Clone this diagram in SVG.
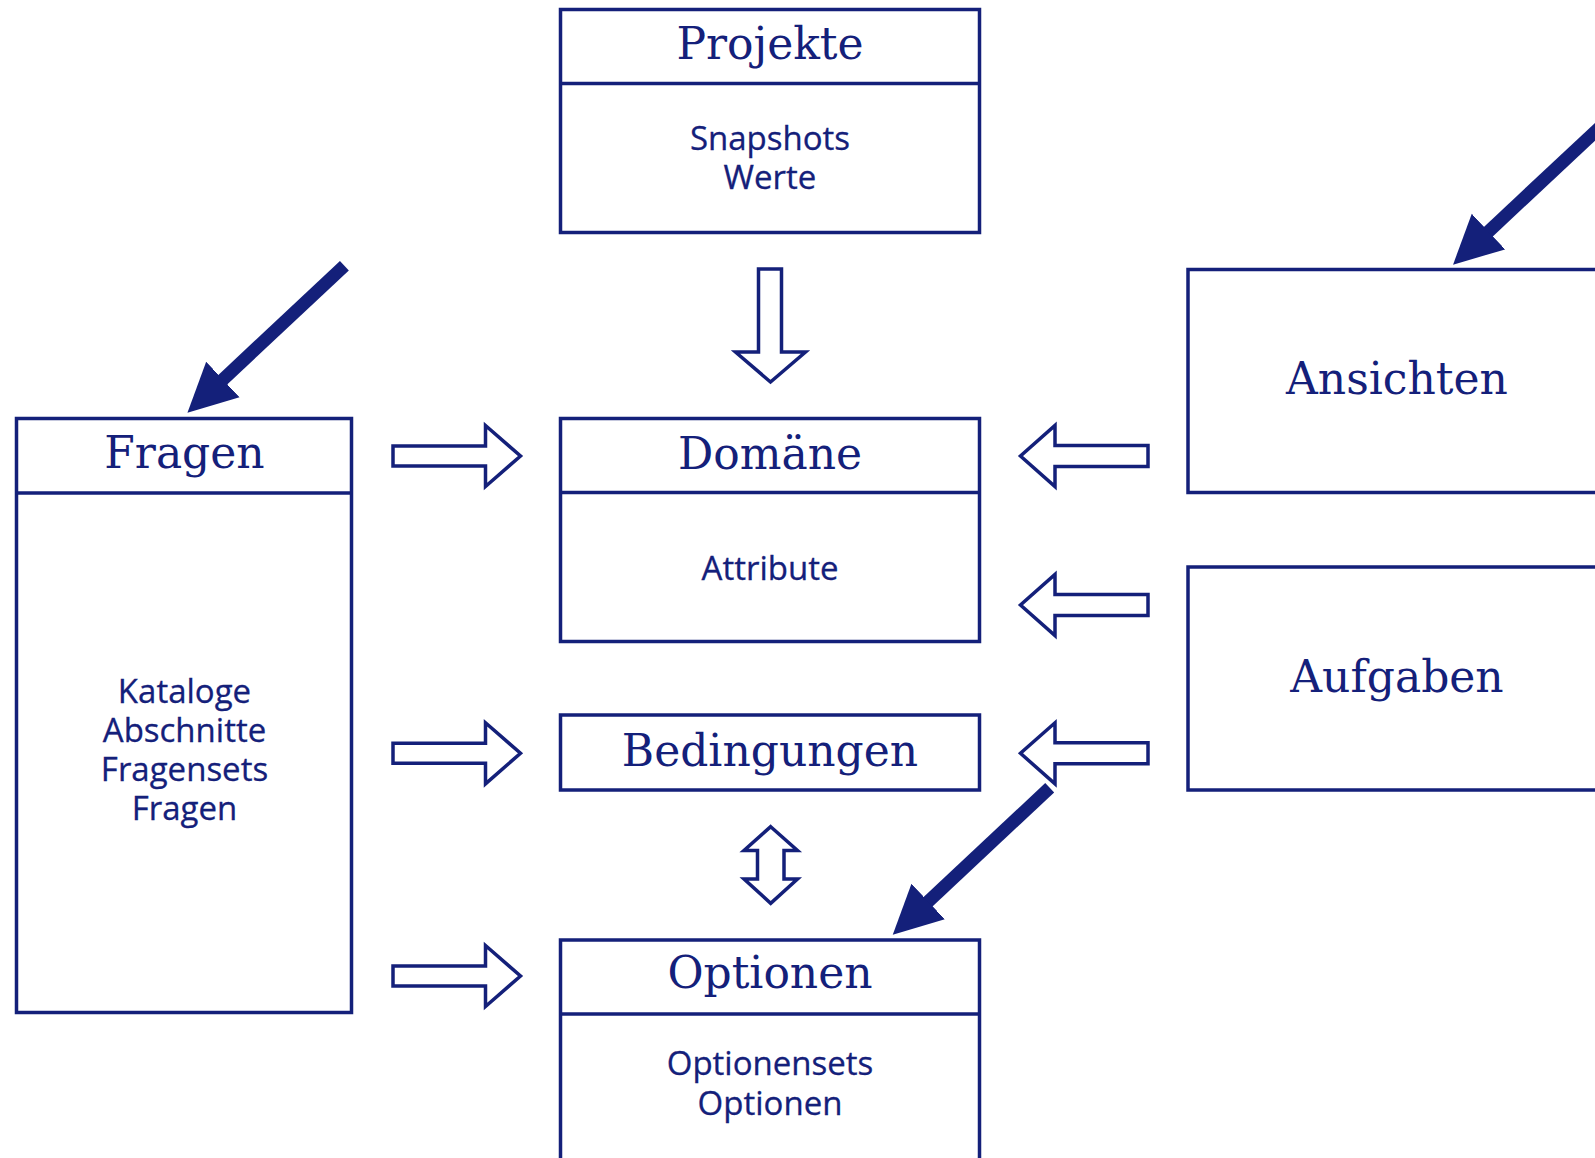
<svg xmlns="http://www.w3.org/2000/svg" width="1595" height="1158" viewBox="0 0 1595 1158">
<style>
.box{fill:#fff;stroke:#14207a;stroke-width:3.5}
.div{stroke:#14207a;stroke-width:3.5}
.hd{font-family:"DejaVu Serif",serif;font-size:44px;fill:#14207a;text-anchor:middle}
.bd{font-family:"Open Sans","Noto Sans",sans-serif;font-size:33px;fill:#14207a;text-anchor:middle;stroke:#14207a;stroke-width:0.3}
.blk{fill:#fff;stroke:#14207a;stroke-width:3.5;stroke-linejoin:miter}
.diag{fill:none;stroke:#14207a;stroke-width:13;stroke-linecap:butt}
</style>
<defs>
<marker id="head" markerUnits="userSpaceOnUse" viewBox="0 0 50 50" markerWidth="50" markerHeight="50" refX="2" refY="25" orient="auto">
<path d="M0,0.6 L48.5,25 L0,49.4 Z" fill="#14207a"/>
</marker>
</defs>
<rect width="1595" height="1158" fill="#fff"/>
<g id="projekte">
<rect class="box" x="560.5" y="9.5" width="419" height="223"/>
<line class="div" x1="560.5" y1="83.5" x2="979.5" y2="83.5"/>
<text class="hd" x="770" y="59">Projekte</text>
<text class="bd" x="770" y="150">Snapshots</text>
<text class="bd" x="770" y="189">Werte</text>
</g>
<g id="fragen">
<rect class="box" x="16.5" y="418.5" width="335" height="594"/>
<line class="div" x1="16.5" y1="493" x2="351.5" y2="493"/>
<text class="hd" x="184.5" y="468">Fragen</text>
<text class="bd" x="184.5" y="702.5">Kataloge</text>
<text class="bd" x="184.5" y="741.5">Abschnitte</text>
<text class="bd" x="184.5" y="780.5">Fragensets</text>
<text class="bd" x="184.5" y="820">Fragen</text>
</g>
<g id="domaene">
<rect class="box" x="560.5" y="418.5" width="419" height="223"/>
<line class="div" x1="560.5" y1="492.5" x2="979.5" y2="492.5"/>
<text class="hd" x="770" y="469">Domäne</text>
<text class="bd" x="770" y="580">Attribute</text>
</g>
<g id="bedingungen">
<rect class="box" x="560.5" y="715" width="419" height="75"/>
<text class="hd" x="770" y="766">Bedingungen</text>
</g>
<g id="optionen">
<rect class="box" x="560.5" y="940" width="419" height="300"/>
<line class="div" x1="560.5" y1="1014" x2="979.5" y2="1014"/>
<text class="hd" x="770" y="988">Optionen</text>
<text class="bd" x="770" y="1075">Optionensets</text>
<text class="bd" x="770" y="1115">Optionen</text>
</g>
<g id="ansichten">
<rect class="box" x="1188" y="269.5" width="420" height="223"/>
<text class="hd" x="1397" y="394">Ansichten</text>
</g>
<g id="aufgaben">
<rect class="box" x="1188" y="567" width="420" height="223"/>
<text class="hd" x="1397" y="692">Aufgaben</text>
</g>
<g id="connectors">
<path class="blk" d="M758.5,269 H781.5 V352 H805.5 L770.5,382 L735.5,352 H758.5 Z"/>
<path class="blk" d="M393,446 H485.5 V425.5 L520.5,456 L485.5,486.5 V466 H393 Z"/>
<path class="blk" d="M393,743.3 H485.5 V722.8 L520.5,753.3 L485.5,783.8 V763.3 H393 Z"/>
<path class="blk" d="M393,966 H485.5 V945.5 L520.5,976 L485.5,1006.5 V986 H393 Z"/>
<path class="blk" d="M1148,445.5 H1055 V425.5 L1020.5,456 L1055,486.5 V466.5 H1148 Z"/>
<path class="blk" d="M1148,594.5 H1055 V574.5 L1020.5,605 L1055,635.5 V615.5 H1148 Z"/>
<path class="blk" d="M1148,742.8 H1055 V722.8 L1020.5,753.3 L1055,783.8 V763.8 H1148 Z"/>
<path class="blk" d="M770.7,826.7 L797.5,850.5 H784 V879 H797.5 L770.7,903.3 L744,879 H757.5 V850.5 H744 Z"/>
<path class="diag" d="M344.4,265.8 L221.4,380.9" marker-end="url(#head)"/>
<path class="diag" d="M1610,117.8 L1487,232.9" marker-end="url(#head)"/>
<path class="diag" d="M1049.7,787.8 L926.7,902.9" marker-end="url(#head)"/>
</g>
</svg>
